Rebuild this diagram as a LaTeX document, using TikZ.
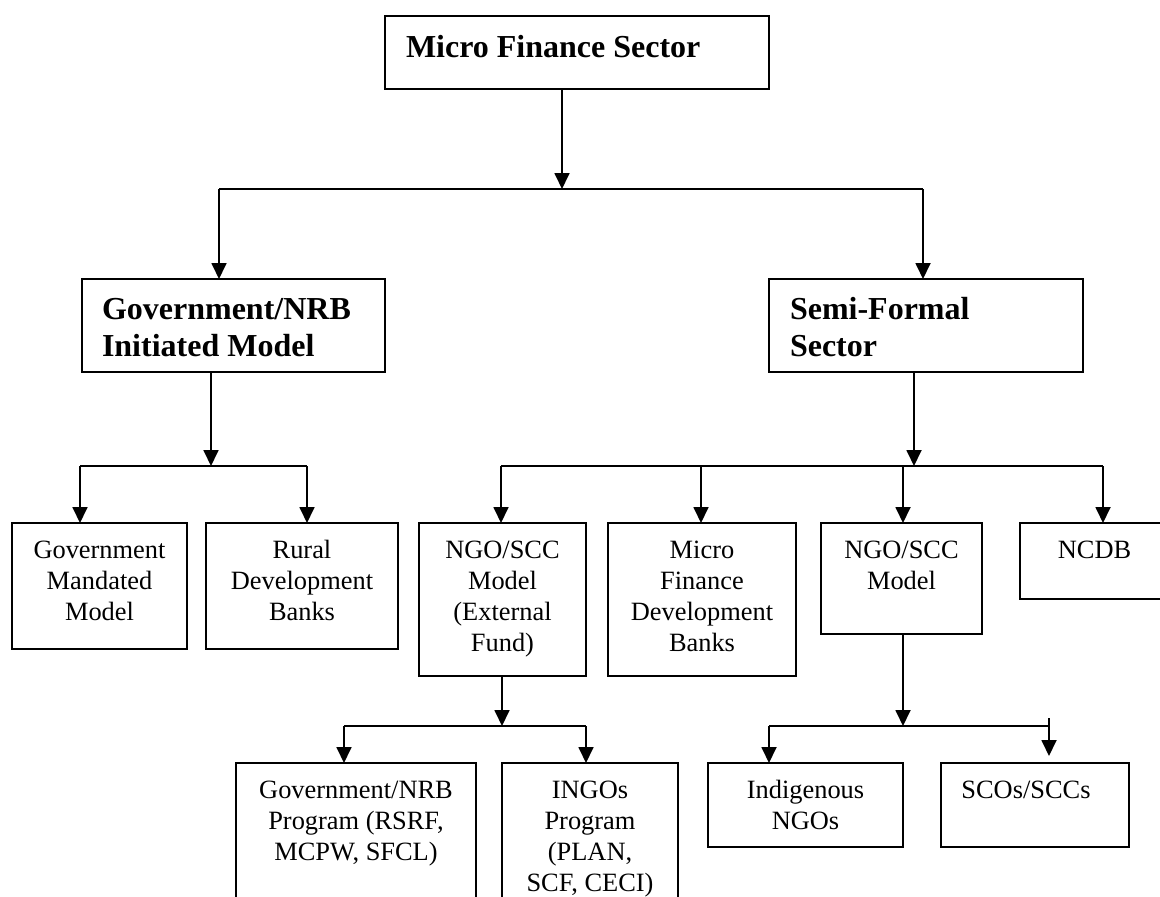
\documentclass[tikz,border=0pt]{standalone}
\usepackage{fontspec}
\setmainfont{Liberation Serif}
\usetikzlibrary{arrows.meta,calc}
\tikzset{
  box/.style={draw, line width=1.8pt, inner sep=0pt, outer sep=0pt, anchor=north west},
  txt/.style={inner sep=0pt, outer sep=0pt, font=\fontsize{26.4}{31}\selectfont, align=center, anchor=north},
  hdr/.style={inner sep=0pt, outer sep=0pt, font=\fontsize{32}{37}\selectfont\bfseries, align=left, anchor=north west},
  conn/.style={line width=1.8pt},
  arr/.style={line width=1.8pt, -{Triangle[length=16pt,width=15pt]}},
}
\begin{document}
\begin{tikzpicture}[x=1pt,y=-1pt]
\useasboundingbox (0,0) rectangle (1160,897);
\clip (0,0) rectangle (1160,897);
\fill[white] (0,0) rectangle (1160,897);
% boxes
\node[box, minimum width=384pt, minimum height=73pt] (mfs) at (385,16) {};
\node[box, minimum width=303pt, minimum height=93pt] (gov) at (82,279) {};
\node[box, minimum width=314pt, minimum height=93pt] (semi) at (769,279) {};
\node[box, minimum width=175pt, minimum height=126pt] (gm) at (12,523) {};
\node[box, minimum width=192pt, minimum height=126pt] (rdb) at (206,523) {};
\node[box, minimum width=167pt, minimum height=153pt] (ngoe) at (419,523) {};
\node[box, minimum width=188pt, minimum height=153pt] (mfdb) at (608,523) {};
\node[box, minimum width=161pt, minimum height=111pt] (ngom) at (821,523) {};
\node[box, minimum width=155pt, minimum height=76pt] (ncdb) at (1020,523) {};
\node[box, minimum width=240pt, minimum height=157pt] (gnp) at (236,763) {};
\node[box, minimum width=176pt, minimum height=157pt] (ingo) at (502,763) {};
\node[box, minimum width=195pt, minimum height=84pt] (indi) at (708,763) {};
\node[box, minimum width=188pt, minimum height=84pt] (scos) at (941,763) {};
% texts
\node[hdr] (tmfs) at ([xshift=21pt,yshift=-16pt]mfs.north west) {\strut Micro Finance Sector};
\node[hdr] (tgov) at ([xshift=20pt,yshift=-15pt]gov.north west) {\strut Government/NRB\\Initiated Model};
\node[hdr] (tsemi) at ([xshift=21pt,yshift=-15pt]semi.north west) {\strut Semi-Formal\\Sector};
\node[txt] (tgm) at ([yshift=-13.3pt]gm.north) {\strut Government\\Mandated\\Model};
\node[txt] (trdb) at ([yshift=-13.3pt]rdb.north) {\strut Rural\\Development\\Banks};
\node[txt] (tngoe) at ([yshift=-13.3pt]ngoe.north) {\strut NGO/SCC\\Model\\(External\\Fund)};
\node[txt] (tmfdb) at ([yshift=-13.3pt]mfdb.north) {\strut Micro\\Finance\\Development\\Banks};
\node[txt] (tngom) at ([yshift=-13.3pt]ngom.north) {\strut NGO/SCC\\Model};
\node[txt] (tncdb) at ([xshift=-3pt,yshift=-14pt]ncdb.north) {\strut NCDB};
\node[txt] (tgnp) at ([yshift=-13.3pt]gnp.north) {\strut Government/NRB\\Program (RSRF,\\MCPW, SFCL)};
\node[txt] (tingo) at ([yshift=-13.3pt]ingo.north) {\strut INGOs\\Program\\(PLAN,\\SCF, CECI)};
\node[txt] (tindi) at ([yshift=-13.3pt]indi.north) {\strut Indigenous\\NGOs};
\node[txt] (tscos) at ([xshift=-9pt,yshift=-13.3pt]scos.north) {\strut SCOs/SCCs};
% junction coordinates
\coordinate (j1) at (562,189);
\coordinate (gL) at (219,189);
\coordinate (gR) at (923,189);
\coordinate (j2) at (211,466);
\coordinate (a1) at (80,466);
\coordinate (a2) at (307,466);
\coordinate (j3) at (914,466);
\coordinate (b1) at (501,466);
\coordinate (b2) at (701,466);
\coordinate (b3) at (903,466);
\coordinate (b4) at (1103,466);
\coordinate (j4) at (502,726);
\coordinate (c1) at (344,726);
\coordinate (c2) at (586,726);
\coordinate (j5) at (903,726);
\coordinate (d1) at (769,726);
\coordinate (d2) at (1049,726);
\coordinate (d2t) at (1049,718);
\coordinate (d2e) at (1049,756);
% connectors
\draw[arr] (mfs.south -| j1) -- (j1);
\draw[conn] (gL) -- (gR);
\draw[arr] (gL) -- (gL |- gov.north);
\draw[arr] (gR) -- (gR |- semi.north);
\draw[arr] (gov.south -| j2) -- (j2);
\draw[conn] (a1) -- (a2);
\draw[arr] (a1) -- (a1 |- gm.north);
\draw[arr] (a2) -- (a2 |- rdb.north);
\draw[arr] (semi.south -| j3) -- (j3);
\draw[conn] (b1) -- (b4);
\draw[arr] (b1) -- (b1 |- ngoe.north);
\draw[arr] (b2) -- (b2 |- mfdb.north);
\draw[arr] (b3) -- (b3 |- ngom.north);
\draw[arr] (b4) -- (b4 |- ncdb.north);
\draw[arr] (ngoe.south -| j4) -- (j4);
\draw[conn] (c1) -- (c2);
\draw[arr] (c1) -- (c1 |- gnp.north);
\draw[arr] (c2) -- (c2 |- ingo.north);
\draw[arr] (ngom.south -| j5) -- (j5);
\draw[conn] (d1) -- (d2);
\draw[arr] (d1) -- (d1 |- indi.north);
\draw[arr] (d2t) -- (d2e);
\end{tikzpicture}
\end{document}
